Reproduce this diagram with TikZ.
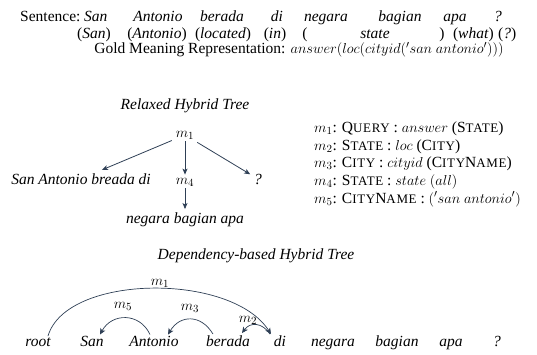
\documentclass[tikz,border=0pt]{standalone}
\usepackage{fontspec}
\setmainfont{Liberation Serif}
\usetikzlibrary{arrows.meta}
\definecolor{arrowink}{HTML}{2E3F55}
% small capitals built from a full-size initial and reduced, slightly spaced capitals
\newcommand{\smallcapsword}[2]{#1{\fontsize{13}{13}\selectfont\addfontfeature{LetterSpace=5}#2}}
\tikzset{
  txt/.style={anchor=base, inner sep=1pt, font=\fontsize{15.5}{18}\selectfont},
  itxt/.style={txt, font=\fontsize{15.5}{18}\selectfont\itshape},
  link/.style={draw=arrowink, line width=0.8pt, -{Stealth[length=6pt,width=5pt,inset=1.5pt]}},
  arc/.style={draw=arrowink, line width=0.7pt, -{Stealth[length=6pt,width=5.5pt,inset=1.5pt]}},
}
\begin{document}
\begin{tikzpicture}[x=1pt,y=-1pt]
\useasboundingbox (0,0) rectangle (537,354);

% sentence with glosses
\node[txt, anchor=base west, inner sep=0pt] (sent) at (20,21.5) {Sentence:};
\node[itxt, anchor=base west, inner sep=0pt] (w1) at (84,21.5) {San};
\node[itxt] (w2) at (158,21.5) {Antonio};
\node[itxt] (w3) at (222,21.5) {berada};
\node[itxt] (w4) at (277,21.5) {di};
\node[itxt] (w5) at (326,21.5) {negara};
\node[itxt] (w6) at (400,21.5) {bagian};
\node[itxt] (w7) at (455,21.5) {apa};
\node[itxt] (w8) at (498,21.5) {?};

\node[txt, inner sep=0pt] (g1) at (94,38) {(\textit{San})};
\node[txt, inner sep=0pt] (g2) at (157,38) {(\textit{Antonio})};
\node[txt, inner sep=0pt] (g3) at (223,38) {(\textit{located})};
\node[txt, inner sep=0pt] (g4) at (275,38) {(\textit{in})};
\node[txt, inner sep=0pt] (g5a) at (305,38) {(};
\node[txt, inner sep=0pt] (g5) at (375,38) {\textit{state}};
\node[txt, inner sep=0pt] (g5b) at (442,38) {)};
\node[txt, anchor=base east, inner sep=0pt] (g6) at (494,38) {(\textit{what})};
\node[txt, anchor=base west, inner sep=0pt] (g7) at (498,38) {(\textit{?})};

\node[txt, inner sep=0pt] (gold) at (299,53.5) {Gold Meaning Representation: $answer(loc(cityid({}'san\ antonio')))$};

% relaxed hybrid tree
\node[itxt] (rtitle) at (185,109) {Relaxed Hybrid Tree};
\node[txt, inner sep=2pt] (m1) at (185,137) {$m_1$};
\node[itxt, inner sep=2pt] (left) at (81,184) {San Antonio breada di};
\node[txt, inner sep=2pt] (m4) at (185,184) {$m_4$};
\node[itxt, inner sep=2pt] (qm) at (258,184) {?};
\node[itxt, inner sep=2pt] (low) at (185,223) {negara bagian apa};

\draw[link, shorten <=2pt, shorten >=3pt] (m1) -- (left);
\draw[link, shorten >=1pt] (m1) -- (m4);
\draw[link, shorten <=2pt, shorten >=2pt] (m1) -- (qm);
\draw[link, shorten >=1pt] (m4) -- (low);

% meaning representation productions
\tikzset{prod/.style={txt, anchor=base west, inner sep=0pt}}
\node[prod] (p1) at (314,132.5) {$m_1$: \smallcapsword{Q}{UERY} : $answer$ (\smallcapsword{S}{TATE})};
\node[prod] (p2) at (314,150) {$m_2$: \smallcapsword{S}{TATE} : $loc$ (\smallcapsword{C}{ITY})};
\node[prod] (p3) at (314,167.5) {$m_3$: \smallcapsword{C}{ITY} : $cityid$ (\smallcapsword{C}{ITY}\smallcapsword{N}{AME})};
\node[prod] (p4) at (314,185) {$m_4$: \smallcapsword{S}{TATE} : $state$ $(all)$};
\node[prod] (p5) at (314,203) {$m_5$: \smallcapsword{C}{ITY}\smallcapsword{N}{AME} : $({}'san\ antonio')$};

% dependency-based hybrid tree
\node[itxt] (dtitle) at (256,259) {Dependency-based Hybrid Tree};
\node[itxt, inner sep=2pt] (root) at (38,346) {root};
\node[itxt, inner sep=2pt] (dsan) at (92,346) {San};
\node[itxt, inner sep=2pt] (dant) at (154,346) {Antonio};
\node[itxt, inner sep=2pt] (dber) at (228,346) {berada};
\node[itxt, inner sep=2pt] (ddi) at (280,346) {di};
\node[itxt, inner sep=2pt] (dneg) at (333,346) {negara};
\node[itxt, inner sep=2pt] (dbag) at (397,346) {bagian};
\node[itxt, inner sep=2pt] (dapa) at (451,346) {apa};
\node[itxt, inner sep=2pt] (dq) at (497,346) {?};

\draw[arc] ([xshift=10pt,yshift=-1pt]root.north) .. controls +(18,-62) and +(-40,-62) .. ([xshift=-9pt,yshift=-1pt]ddi.north);
\draw[arc] ([xshift=-4pt,yshift=-1pt]dant.north) .. controls +(-10,-22) and +(12,-22) .. ([xshift=8pt,yshift=-1pt]dsan.north);
\draw[arc] ([xshift=-15pt,yshift=-1pt]dber.north) .. controls +(-12,-20) and +(12,-20) .. ([xshift=14pt,yshift=-1pt]dant.north);
\draw[arc] ([xshift=-10pt,yshift=-1pt]ddi.north) .. controls +(-8,-12) and +(8,-11) .. ([xshift=14pt,yshift=0pt]dber.north);

\node[txt] (l1) at (160,285) {$m_1$};
\node[txt] (l5) at (123,308) {$m_5$};
\node[txt] (l3) at (190,310) {$m_3$};
\node[txt] (l2) at (248,322) {$m_2$};
\end{tikzpicture}
\end{document}
